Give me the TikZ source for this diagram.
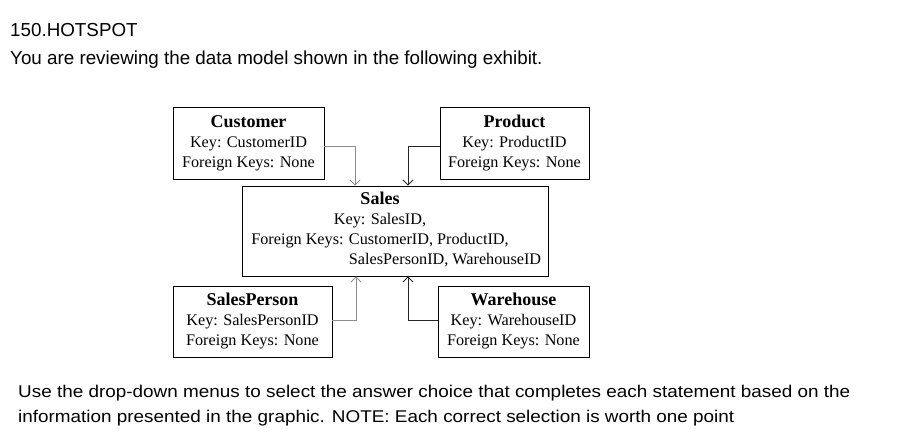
\documentclass[tikz,border=0pt]{standalone}
\usepackage{fontspec}
\setmainfont{Liberation Serif}
\newfontfamily\qfont{Liberation Sans}
\usetikzlibrary{arrows.meta,positioning}
\definecolor{linkgray}{gray}{0.55}
\definecolor{linkdark}{gray}{0.15}
\newcommand{\tname}[1]{{\fontsize{18}{20}\selectfont\textbf{#1}}}
\tikzset{every picture/.style={
  >={Straight Barb[width=10pt,length=5pt]}   % Open V arrow heads.
  }
}

\begin{document}
\begin{tikzpicture}[
    x=1pt,y=-1pt,
    entity/.style={             % Boxes denoting tables.
      rectangle,
      draw,
      line width=0.9pt,
      align=center,
      inner sep=0pt,
      font=\fontsize{16.2}{20}\selectfont
    },
    fk/.style={                 % Foreign key links.
      ->,
      line width=0.9pt
    },
    qtext/.style={              % Text of the question.
      anchor=base west,
      inner sep=0pt,
      font=\qfont\fontsize{18.8}{22}\selectfont
    },
    ntext/.style={              % Text of the note below.
      anchor=base west,
      inner sep=0pt,
      font=\qfont\fontsize{18.9}{22}\selectfont
    }]
    \useasboundingbox (0,0) rectangle (900,443);

    % Question header.
    \node[qtext] (num) at (10,36.7) {150.HOTSPOT};
    \node[qtext] (intro) at (10,65) {You are reviewing the data model shown in the following exhibit.};

    % The tables of the model.
    \node[entity,minimum width=151pt,minimum height=72pt] (cust) at (248.5,143)
      {\tname{Customer}\\Key: CustomerID\\Foreign Keys: None};
    \node[entity,minimum width=149pt,minimum height=72pt] (prod) at (514.5,143)
      {\tname{Product}\\Key: ProductID\\Foreign Keys: None};
    \node[entity,minimum width=306pt,minimum height=90pt] (sales) at (395,231)
      {\begin{tabular}{@{}c@{}}
         \tname{Sales}\\
         Key: SalesID,\\
         Foreign Keys: CustomerID, ProductID,\\
         \phantom{Foreign Keys: }\rlap{SalesPersonID, WarehouseID}\phantom{CustomerID, ProductID,}
       \end{tabular}\hspace*{30pt}};
    \node[entity,minimum width=159pt,minimum height=71pt] (sp) at (252.5,321.5)
      {\tname{SalesPerson}\\Key: SalesPersonID\\Foreign Keys: None};
    \node[entity,minimum width=151pt,minimum height=71pt] (wh) at (513.5,321.5)
      {\tname{Warehouse}\\Key: WarehouseID\\Foreign Keys: None};

    % Links from the referenced tables to Sales.
    \draw[fk,linkgray] ([yshift=-3pt] cust.east) -| ([xshift=-40pt] sales.north);
    \draw[fk,linkdark] ([yshift=-3pt] prod.west) -| ([xshift=13pt] sales.north);
    \draw[fk,linkgray] ([yshift=1.5pt] sp.east) -| ([xshift=-39pt] sales.south);
    \draw[fk,linkdark] ([yshift=1.5pt] wh.west) -| ([xshift=13pt] sales.south);

    % Instructions below the exhibit.
    \node[ntext] (instr1) at (18,398)
      {\scalebox{1}[0.9]{Use the drop-down menus to select the answer choice that completes each statement based on the}};
    \node[ntext] (instr2) at (18,423)
      {\scalebox{1}[0.9]{information presented in the graphic. NOTE: Each correct selection is worth one point}};
  \end{tikzpicture}
\end{document}
